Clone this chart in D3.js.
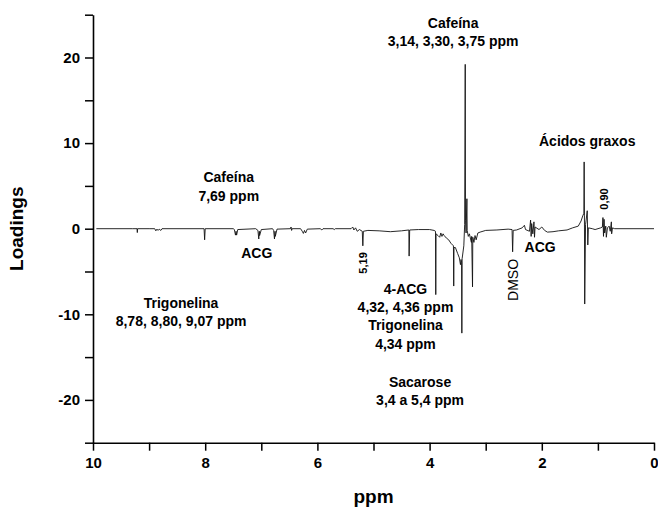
<!DOCTYPE html>
<html>
<head>
<meta charset="utf-8">
<script src="https://cdn.jsdelivr.net/npm/d3@7"></script>
<style>
  body { margin: 0; background: #fff; }
  svg { display: block; }
  text { font-family: Arial, "Liberation Sans", sans-serif; fill: #000; }
</style>
</head>
<body>
<svg id="chart" width="658" height="508"></svg>
<script>
// PCA loadings of the 1H NMR spectrum (chemical shift in ppm, loading value)
const ppm = [
  9.94, 9.30, 9.215, 9.21, 9.205, 9.00, 8.90, 8.88, 8.86, 8.84, 8.82, 8.79, 8.77,
  8.02, 8.01, 8.00, 7.50, 7.48, 7.46, 7.45, 7.44, 7.42,
  7.10, 7.06, 7.045, 7.035, 7.03, 7.00, 6.80, 6.78, 6.765, 6.755, 6.75, 6.72,
  6.48, 6.47, 6.46, 6.45, 6.30, 6.27, 6.25, 6.23, 6.21, 6.18,
  5.95, 5.92, 5.90, 5.72, 5.70, 5.68, 5.40, 5.37, 5.35, 5.32, 5.29, 5.25,
  5.20, 5.19, 5.18, 5.10, 4.90, 4.70, 4.50, 4.37, 4.365, 4.355, 4.20, 4.00,
  3.92, 3.895, 3.89, 3.885, 3.85, 3.82, 3.80, 3.78, 3.76, 3.74, 3.70, 3.66, 3.62,
  3.575, 3.57, 3.565, 3.54, 3.50, 3.47, 3.45, 3.44, 3.43, 3.425, 3.42, 3.39,
  3.375, 3.365, 3.36, 3.35, 3.335, 3.33, 3.31, 3.29, 3.27, 3.255, 3.25, 3.235,
  3.23, 3.21, 3.19, 3.17, 3.14, 3.10, 3.00, 2.80, 2.60,
  2.53, 2.52, 2.51, 2.45, 2.35, 2.31, 2.29, 2.22, 2.20, 2.19, 2.18, 2.16, 2.14, 2.13, 2.12,
  2.05, 2.00, 1.95, 1.90, 1.80, 1.70, 1.55, 1.45, 1.35, 1.30, 1.27, 1.25,
  1.245, 1.24, 1.235, 1.22, 1.21, 1.19, 1.185, 1.18, 1.17, 1.10, 1.05,
  0.95, 0.92, 0.91, 0.90, 0.89, 0.88, 0.86, 0.85, 0.83, 0.80, 0.78, 0.76, 0.755, 0.74, 0.70, 0.00
];
const loadings = [
  0, 0, 0, -0.45, 0, 0, 0, -0.25, -0.05, -0.2, -0.05, -0.2, 0,
  0, -1.3, 0, 0, -0.1, -0.75, -0.3, -0.75, -0.1,
  0, -0.2, -1.2, -0.3, -0.8, -0.1, 0, -0.2, -1.2, -0.3, -0.9, -0.05,
  0, 0.2, -0.2, 0, 0, -0.3, -0.55, -0.2, -0.5, -0.05,
  0, -0.15, 0, 0, -0.1, 0, 0, 0.2, -0.15, 0.1, -0.3, -0.1,
  -0.3, -2.0, -0.3, -0.2, -0.25, -0.35, -0.25, -0.15, -3.2, -0.15, -0.1, -0.1,
  -0.2, -0.3, -7.7, -0.6, -0.8, -1.0, -0.5, -0.9, -0.6, -0.8, -1.1, -1.3, -1.7,
  -2.0, -6.7, -2.2, -2.2, -2.9, -3.4, -4.2, -3.6, -3.9, -12.2, -3.5, -2.0,
  0.5, 19.2, 1.0, -0.5, 3.5, -0.2, -0.9, -0.6, -1.2, -1.6, -0.9, -6.8,
  -1.0, -1.6, -0.8, -1.3, -0.5, -0.4, -0.2, -0.15, -0.05,
  -0.1, -2.7, -0.2, -0.15, 0.1, 0.4, -0.1, -0.3, 1.0, -0.9, 0.6, -0.6, 0.8, -1.0, 0.2,
  -0.1, 0.2, -0.2, -0.4, -0.35, -0.25, -0.15, 0.1, 0.3, 0.9, 1.5, 1.8,
  7.8, 1.5, -8.8, 0.5, 1.0, 2.1, 0.2, -1.9, 0.1, 0, -0.1,
  0.1, 0.2, 1.3, -0.9, 1.1, -0.5, 0.3, -1.0, 0.1, 0.3, -0.3, 0.8, -0.6, 0.1, 0, 0
];

// Axis ticks and labels
const xTicks = [10, 9, 8, 7, 6, 5, 4, 3, 2, 1, 0];
const xTickLabels = [10, 8, 6, 4, 2, 0];
const yTicks = [-25, -20, -15, -10, -5, 0, 5, 10, 15, 20, 25];
const yTickLabels = [-20, -10, 0, 10, 20];

// Peak assignments: label lines, anchor in (ppm, loading)
const notes = [
  { lines: ["Cafeína", "3,14, 3,30, 3,75 ppm"], at: [3.58, 24.07], step: 2.18 },
  { lines: ["Cafeína", "7,69 ppm"], at: [7.58, 6.04], step: 2.18 },
  { lines: ["ACG"], at: [7.08, -2.84] },
  { lines: ["4-ACG", "4,32, 4,36 ppm", "Trigonelina", "4,34 ppm"], at: [4.43, -7.01], step: 2.14 },
  { lines: ["Sacarose", "3,4 a 5,4 ppm"], at: [4.17, -17.91], step: 2.14 },
  { lines: ["Trigonelina", "8,78, 8,80, 9,07 ppm"], at: [8.43, -8.64], step: 2.18 },
  { lines: ["ACG"], at: [2.03, -2.14] },
  { lines: ["Ácidos graxos"], at: [1.19, 10.21] }
];
const vertNotes = [
  { text: "5,19", at: [5.18, -4.0], size: 11, weight: "bold" },
  { text: "DMSO", at: [2.51, -5.99], size: 14, weight: "normal" },
  { text: "0,90", at: [0.886, 3.47], size: 11, weight: "bold" }
];

const svg = d3.select("#chart");
const x = d3.scaleLinear().domain([10, 0]).range([93, 654]);
const y = d3.scaleLinear().domain([-25, 25]).range([442.7, 14.7]);

// Spectrum trace
const points = ppm.map((p, i) => [p, loadings[i]]);
svg.append("path")
  .datum(points)
  .attr("fill", "none")
  .attr("stroke", "#111")
  .attr("stroke-width", 0.9)
  .attr("stroke-linejoin", "miter")
  .attr("d", d3.line().x(d => x(d[0])).y(d => y(d[1])));

// Axes
const xAxis = svg.append("g")
  .attr("transform", `translate(0,${y(-25)})`)
  .call(d3.axisBottom(x).tickValues(xTicks).tickSize(8).tickSizeOuter(0).tickPadding(7)
    .tickFormat(d => xTickLabels.includes(d) ? String(d) : ""));
const yAxis = svg.append("g")
  .attr("transform", `translate(${x(10)},0)`)
  .call(d3.axisLeft(y).tickValues(yTicks).tickSize(8).tickSizeOuter(0).tickPadding(5)
    .tickFormat(d => yTickLabels.includes(d) ? String(d) : ""));
[xAxis, yAxis].forEach(g => {
  g.select(".domain").attr("stroke", "#000").attr("stroke-width", 1.6);
  g.selectAll(".tick line").attr("stroke", "#000").attr("stroke-width", 1.5);
  g.selectAll(".tick text")
    .attr("font-family", "Arial, 'Liberation Sans', sans-serif")
    .attr("font-size", 15).attr("font-weight", "bold").attr("fill", "#000");
});

// Axis titles
svg.append("text")
  .attr("transform", `translate(23,${(y(25) + y(-25)) / 2}) rotate(-90)`)
  .attr("text-anchor", "middle")
  .attr("font-size", 19).attr("font-weight", "bold")
  .text("Loadings");
svg.append("text")
  .attr("x", (x(10) + x(0)) / 2).attr("y", 503)
  .attr("text-anchor", "middle")
  .attr("font-size", 19).attr("font-weight", "bold")
  .text("ppm");

// Peak labels
notes.forEach(n => {
  n.lines.forEach((line, i) => {
    svg.append("text")
      .attr("x", x(n.at[0]))
      .attr("y", y(n.at[1] - i * (n.step || 0)))
      .attr("dy", "0.36em")
      .attr("text-anchor", "middle")
      .attr("font-size", 14).attr("font-weight", "bold")
      .text(line);
  });
});
vertNotes.forEach(n => {
  svg.append("text")
    .attr("transform", `translate(${x(n.at[0])},${y(n.at[1])}) rotate(-90)`)
    .attr("dy", "0.36em")
    .attr("text-anchor", "middle")
    .attr("font-size", n.size).attr("font-weight", n.weight)
    .text(n.text);
});
</script>
</body>
</html>
